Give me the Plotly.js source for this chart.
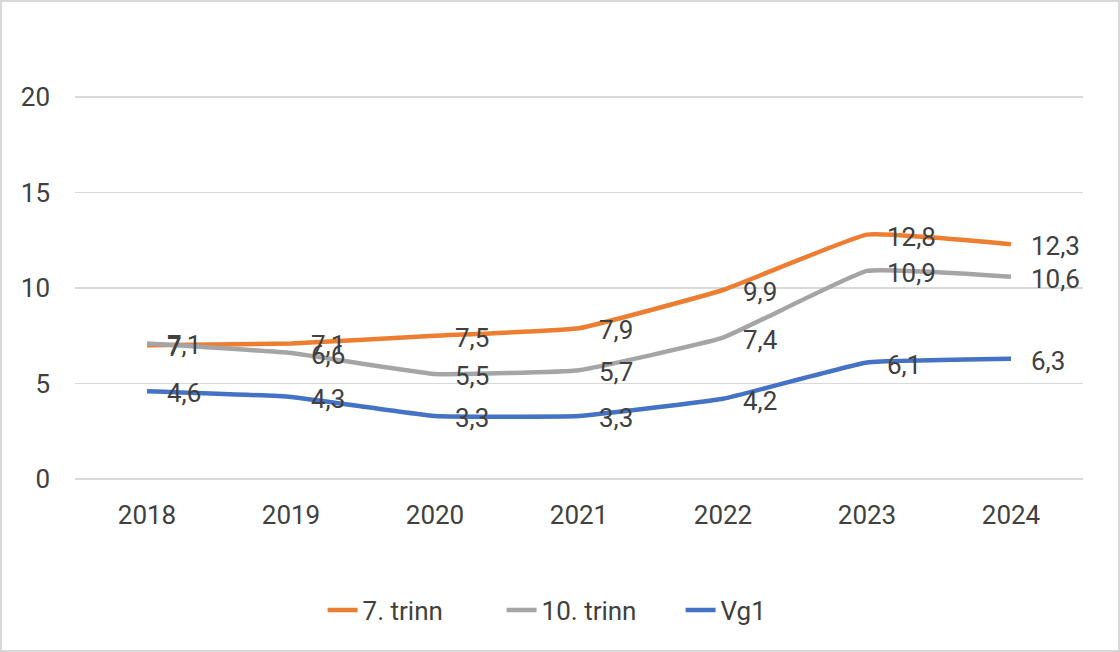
<!DOCTYPE html>
<html>
<head>
<meta charset="utf-8">
<script src="https://cdn.plot.ly/plotly-3.0.1.min.js"></script>
<style>
  html, body { margin: 0; padding: 0; background: #fff; }
  #wrap { position: relative; width: 1120px; height: 652px; }
  #chart { width: 1120px; height: 652px; }
  #frame { position: absolute; left: 0; top: 0; width: 1120px; height: 652px; box-sizing: border-box; border: 2px solid #d9d9d9; pointer-events: none; }
</style>
</head>
<body>
<div id="wrap"><div id="chart"></div><div id="frame"></div></div>
<script>
const years = ['2018', '2019', '2020', '2021', '2022', '2023', '2024'];
const trinn7 = [7, 7.1, 7.5, 7.9, 9.9, 12.8, 12.3];
const trinn10 = [7.1, 6.6, 5.5, 5.7, 7.4, 10.9, 10.6];
const vg1 = [4.6, 4.3, 3.3, 3.3, 4.2, 6.1, 6.3];
const seriesNames = ['7. trinn', '10. trinn', 'Vg1'];
const colors = ['#ED7D31', '#A5A5A5', '#4472C4'];
const yTicks = [0, 5, 10, 15, 20];

const fontFam = 'Roboto, "Open Sans", sans-serif';
const txtColor = '#404040';
const allSeries = [trinn7, trinn10, vg1];
const xIdx = years.map((_, i) => i);

const traces = allSeries.map((vals, i) => ({
  type: 'scatter', mode: 'lines', x: xIdx, y: vals, name: seriesNames[i],
  line: { color: colors[i], width: 4.5, shape: 'spline', smoothing: 0.3 },
  hoverinfo: 'skip'
}));

const annotations = [];
allSeries.forEach((vals) => {
  vals.forEach((v, j) => {
    annotations.push({
      x: xIdx[j], y: v, xref: 'x', yref: 'y',
      text: String(v).replace('.', ','),
      showarrow: false, xanchor: 'left', yanchor: 'middle', xshift: 18, yshift: -2,
      font: { family: fontFam, size: 26, color: txtColor }
    });
  });
});

const layout = {
  width: 1120, height: 652,
  margin: { l: 75, r: 37, t: 59, b: 173 },
  paper_bgcolor: '#ffffff', plot_bgcolor: '#ffffff',
  font: { family: fontFam, size: 26, color: txtColor },
  showlegend: true,
  legend: {
    orientation: 'h', x: 0.512, xanchor: 'center', y: -0.312, yanchor: 'middle',
    font: { family: fontFam, size: 26, color: txtColor }, entrywidth: 134, entrywidthmode: 'pixels'
  },
  xaxis: {
    type: 'linear', range: [-0.5, 6.5], tickvals: xIdx, ticktext: years,
    showgrid: false, zeroline: false, showline: false,
    ticks: '', ticklabelstandoff: 18, tickfont: { size: 26, color: txtColor }
  },
  yaxis: {
    range: [0, 22], tickvals: yTicks, ticktext: yTicks.map(String),
    showgrid: true, gridcolor: '#d9d9d9', gridwidth: 1.5,
    zeroline: true, zerolinecolor: '#d9d9d9', zerolinewidth: 1.5,
    showline: false, ticks: '', ticklabelstandoff: 24, tickfont: { size: 26, color: txtColor }
  },
  annotations: annotations
};

Plotly.newPlot('chart', traces, layout, { displayModeBar: false, staticPlot: true });
</script>
</body>
</html>
